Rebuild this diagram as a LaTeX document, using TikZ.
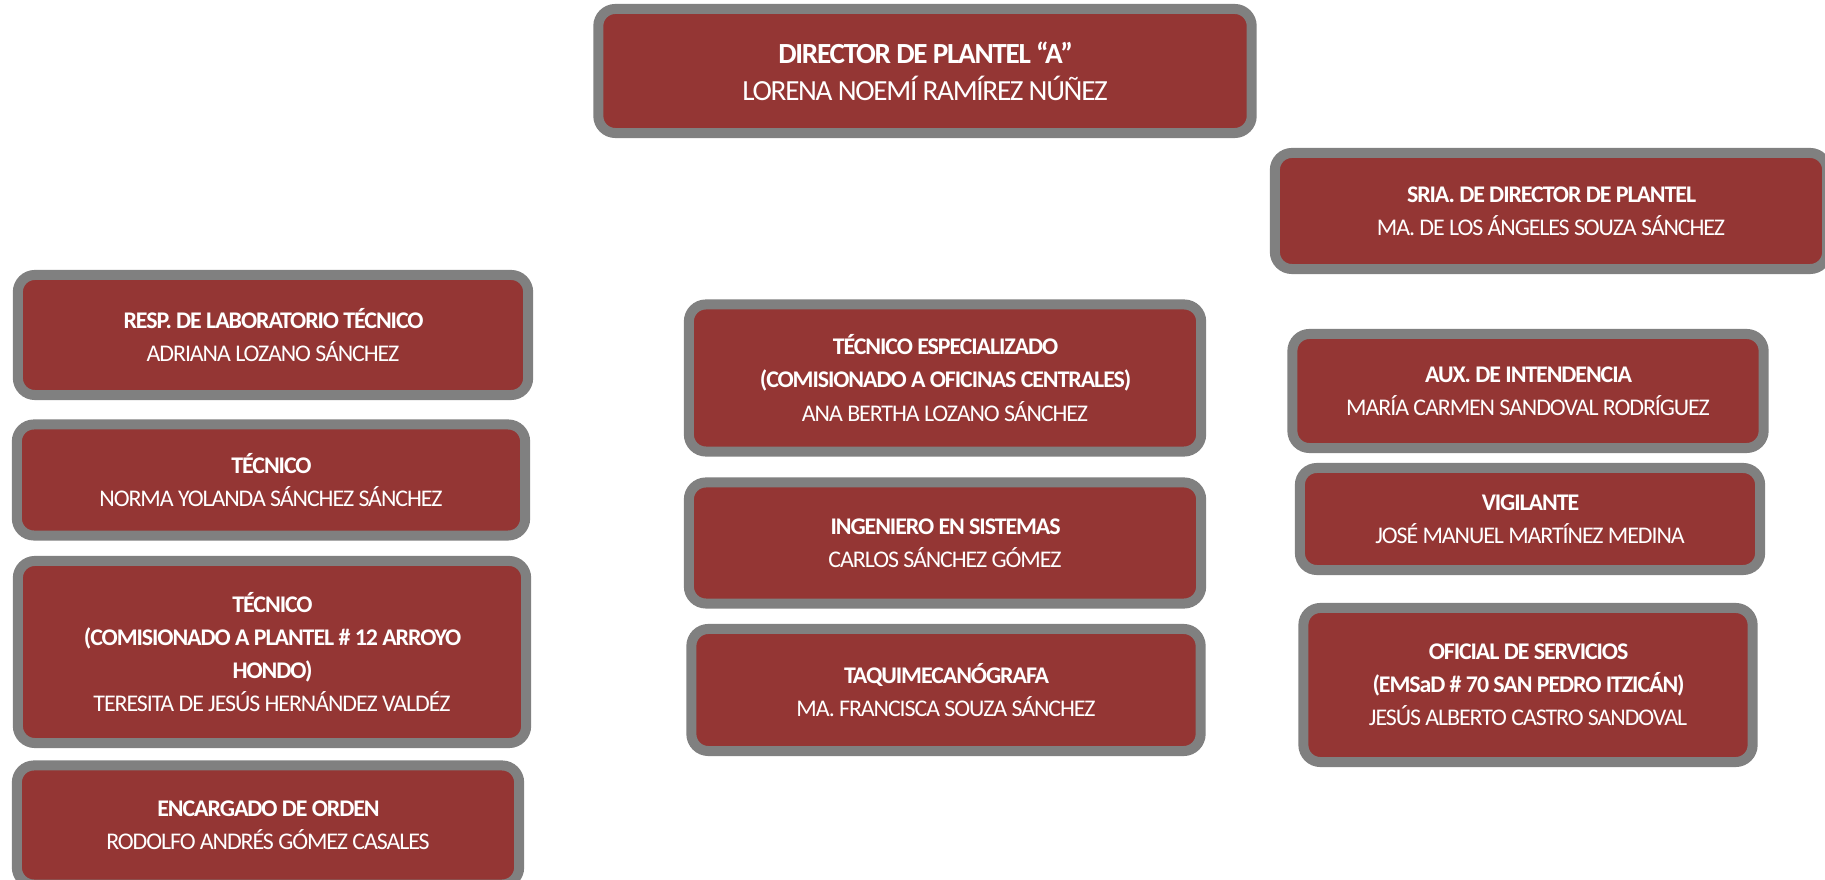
\documentclass[tikz,border=0pt]{standalone}
\usepackage{fontspec}
\setmainfont{Carlito}[LetterSpace=-4.5]
\usetikzlibrary{positioning}
\definecolor{guinda}{HTML}{943634}
\definecolor{marco}{HTML}{808080}

\begin{document}
\begin{tikzpicture}[x=0.01cm, y=-0.01cm]
        \tikzstyle{puesto}=[draw=marco,fill=guinda,line width=0.1cm,rounded corners=0.17cm,text=white,align=center,font=\fontsize{6.8}{9.4}\selectfont]
        \useasboundingbox (0,0) rectangle (1825,880);
        % direccion
        \node[puesto,minimum width=6.53cm,minimum height=1.24cm,font=\fontsize{8.3}{10.5}\selectfont] (dir) at (925,71)
          {\textbf{DIRECTOR DE PLANTEL “A”}\\LORENA NOEMÍ RAMÍREZ NÚÑEZ};
        \node[puesto,minimum width=5.52cm,minimum height=1.16cm] (sria) at (1551,211)
          {\textbf{SRIA. DE DIRECTOR DE PLANTEL}\\MA. DE LOS ÁNGELES SOUZA SÁNCHEZ};
        % columna izquierda
        \node[puesto,minimum width=5.10cm,minimum height=1.20cm] (lab) at (273,335)
          {\textbf{RESP. DE LABORATORIO TÉCNICO}\\ADRIANA LOZANO SÁNCHEZ};
        \node[puesto,minimum width=5.08cm,minimum height=1.11cm] (tec) at (271,480)
          {\textbf{TÉCNICO}\\NORMA YOLANDA SÁNCHEZ SÁNCHEZ};
        \node[puesto,minimum width=5.08cm,minimum height=1.82cm] (tecc) at (272,652)
          {\textbf{TÉCNICO}\\\textbf{(COMISIONADO A PLANTEL \# 12 ARROYO}\\\textbf{HONDO)}\\TERESITA DE JESÚS HERNÁNDEZ VALDÉZ};
        \node[puesto,minimum width=5.02cm,minimum height=1.19cm] (orden) at (268,825)
          {\textbf{ENCARGADO DE ORDEN}\\RODOLFO ANDRÉS GÓMEZ CASALES};
        % columna central
        \node[puesto,minimum width=5.12cm,minimum height=1.47cm] (esp) at (945,378)
          {\textbf{TÉCNICO ESPECIALIZADO}\\\textbf{(COMISIONADO A OFICINAS CENTRALES)}\\ANA BERTHA LOZANO SÁNCHEZ};
        \node[puesto,minimum width=5.12cm,minimum height=1.21cm] (ing) at (945,543)
          {\textbf{INGENIERO EN SISTEMAS}\\CARLOS SÁNCHEZ GÓMEZ};
        \node[puesto,minimum width=5.09cm,minimum height=1.22cm] (taq) at (946,690)
          {\textbf{TAQUIMECANÓGRAFA}\\MA. FRANCISCA SOUZA SÁNCHEZ};
        % columna derecha
        \node[puesto,minimum width=4.71cm,minimum height=1.14cm] (aux) at (1528,391)
          {\textbf{AUX. DE INTENDENCIA}\\MARÍA CARMEN SANDOVAL RODRÍGUEZ};
        \node[puesto,minimum width=4.60cm,minimum height=1.02cm] (vig) at (1530,519)
          {\textbf{VIGILANTE}\\JOSÉ MANUEL MARTÍNEZ MEDINA};
        \node[puesto,minimum width=4.49cm,minimum height=1.54cm] (ofi) at (1528,685)
          {\textbf{OFICIAL DE SERVICIOS}\\\textbf{(EMSaD \# 70 SAN PEDRO ITZICÁN)}\\JESÚS ALBERTO CASTRO SANDOVAL};
      \end{tikzpicture}
\end{document}
